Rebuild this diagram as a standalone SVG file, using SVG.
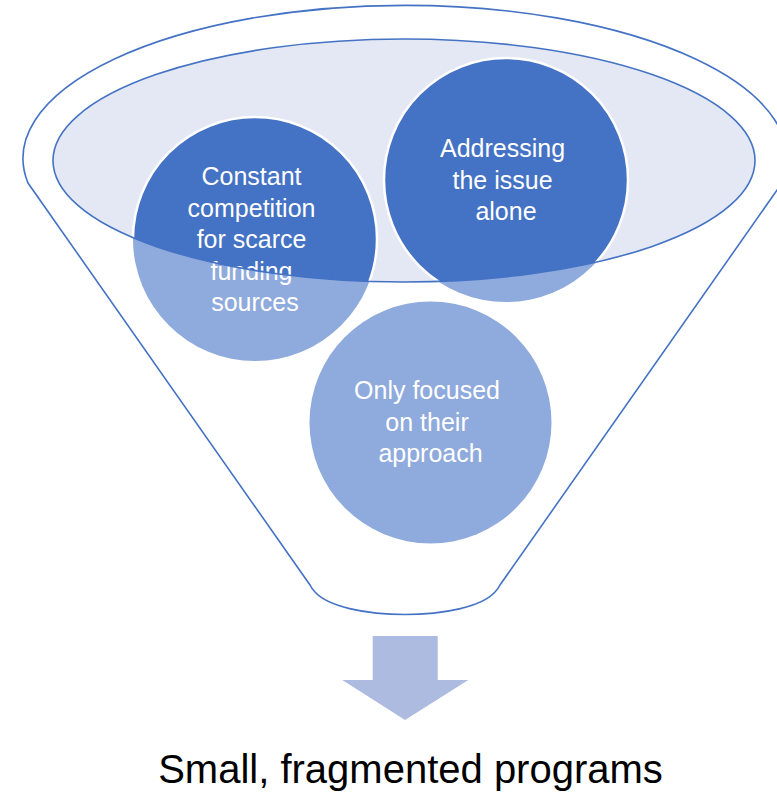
<svg xmlns="http://www.w3.org/2000/svg" width="777" height="808" viewBox="0 0 777 808">
  <style>
    .outline { fill: none; stroke: #4472C4; stroke-width: 1.6; }
    .light { fill: #8FAADC; }
    .dark { fill: #4472C4; stroke: #FFFFFF; stroke-width: 2.5; }
    .label { font-family: "Liberation Sans", Arial, sans-serif; font-size: 25px; fill: #FFFFFF; text-anchor: middle; }
    .caption { font-family: "Liberation Sans", Arial, sans-serif; font-size: 40px; fill: #000000; text-anchor: middle; }
  </style>
  <defs>
    <clipPath id="rim-clip">
      <ellipse cx="404" cy="160.5" rx="351" ry="121.5"/>
    </clipPath>
  </defs>
  <rect width="777" height="808" fill="#FFFFFF"/>

  <!-- funnel body -->
  <g id="funnel">
    <path class="outline" fill="#FFFFFF" d="M 28,183 A 382,153 0 1 1 782,183 L 500,585 Q 498,589 495,592 C 468,622 342,622 315,592 Q 312,589 310,585 Z"/>
    <ellipse cx="404" cy="160.5" rx="351" ry="121.5" fill="#E4E8F4"/>
  </g>

  <!-- items in the funnel: light part below the rim, dark part inside it -->
  <g id="item-competition">
    <circle class="light" cx="255" cy="239" r="122"/>
    <circle class="dark" cx="255" cy="239" r="122" clip-path="url(#rim-clip)"/>
    <text class="label">
      <tspan x="255" y="185">Constant</tspan>
      <tspan x="255" y="216.5">competition</tspan>
      <tspan x="255" y="248">for scarce</tspan>
      <tspan x="255" y="279.5">funding</tspan>
      <tspan x="255" y="311">sources</tspan>
    </text>
  </g>
  <g id="item-alone">
    <circle class="light" cx="506" cy="180" r="122"/>
    <circle class="dark" cx="506" cy="180" r="122" clip-path="url(#rim-clip)"/>
    <text class="label">
      <tspan x="506" y="157">Addressing</tspan>
      <tspan x="506" y="188.5">the issue</tspan>
      <tspan x="506" y="220">alone</tspan>
    </text>
  </g>
  <g id="item-approach">
    <circle class="light" cx="430.5" cy="422.5" r="121"/>
    <text class="label">
      <tspan x="430.5" y="399">Only focused</tspan>
      <tspan x="430.5" y="430.5">on their</tspan>
      <tspan x="430.5" y="462">approach</tspan>
    </text>
  </g>

  <!-- rim edge drawn over the items -->
  <g id="rim">
    <ellipse class="outline" cx="404" cy="160.5" rx="351" ry="121.5"/>
  </g>

  <!-- output arrow and result -->
  <g id="connectors">
    <polygon id="arrow" fill="#ADBBE0" points="372.7,636 437.7,636 437.7,680 468.3,680 405,720 342.3,680 372.7,680"/>
  </g>
  <g id="result">
    <text class="caption" x="410.5" y="783">Small, fragmented programs</text>
  </g>
</svg>
